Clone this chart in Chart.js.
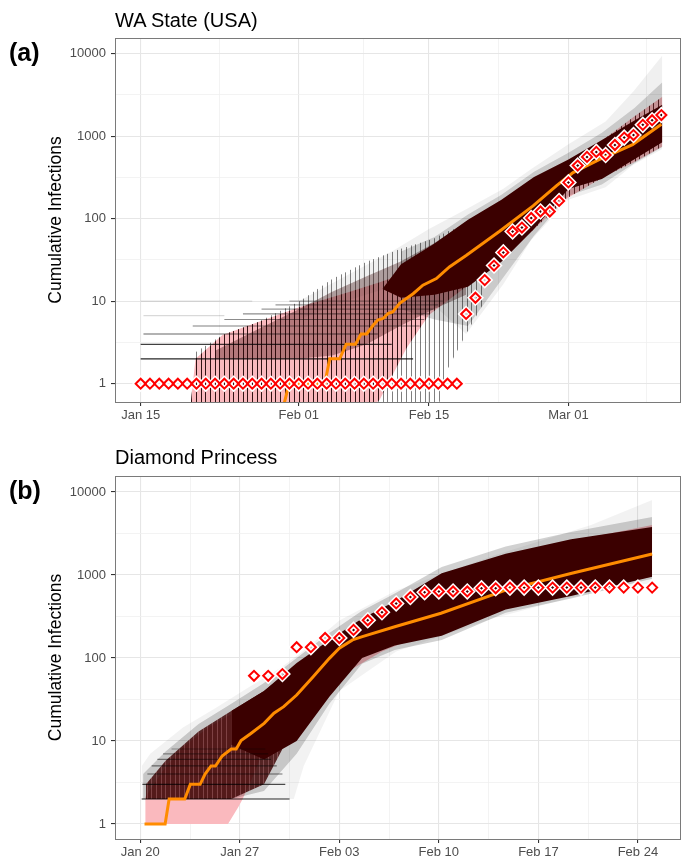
<!DOCTYPE html>
<html>
<head>
<meta charset="utf-8">
<script src="https://cdn.jsdelivr.net/npm/chart.js@4.4.1/dist/chart.umd.min.js"></script>
<style>
  html, body { margin: 0; padding: 0; background: #fff; width: 681px; height: 863px; overflow: hidden; }
  .panel { position: absolute; left: 0; width: 690px; }
  #panelA { top: 0; height: 431px; }
  #panelB { top: 431px; height: 432px; }
  .title { position: absolute; left: 115px; font-family: "Liberation Sans", Arial, sans-serif; font-size: 20px; line-height: 20px; color: #000; white-space: nowrap; }
  .tag { position: absolute; left: 9px; font-family: "Liberation Sans", Arial, sans-serif; font-weight: bold; font-size: 25px; line-height: 25px; color: #000; }
</style>
</head>
<body>
<div class="panel" id="panelA"><canvas id="chartA" width="690" height="431"></canvas></div>
<div class="panel" id="panelB"><canvas id="chartB" width="690" height="432"></canvas></div>
<div class="title" style="top:9.5px">WA State (USA)</div>
<div class="tag" style="top:40px">(a)</div>
<div class="title" style="top:446.5px">Diamond Princess</div>
<div class="tag" style="top:478px">(b)</div>

<script>
// ---- shared axis values ----
const yTickValues = [1, 10, 100, 1000, 10000];
const yMinorValues = [3.162, 31.62, 316.2, 3162];

// ---- (a) WA State: days counted from Jan 15 ----
const tickDaysA = [0, 17, 31, 46];
const tickLabelsA = ["Jan 15", "Feb 01", "Feb 15", "Mar 01"];
const minorDaysA = [8.5, 24, 38.5, 54.4];

// observed cumulative cases, one per day from day 0
const obsCasesA = [1, 1, 1, 1, 1, 1, 1, 1, 1, 1, 1, 1, 1, 1, 1, 1, 1, 1, 1, 1,
  1, 1, 1, 1, 1, 1, 1, 1, 1, 1, 1, 1, 1, 1, 1,
  7, 11, 18, 27, 39, 70, 78, 102, 122, 122, 164, 275, 440, 560, 644, 590,
  780, 960, 1030, 1370, 1560, 1800];

// median of the simulations
const medDaysA = [15.3, 15.96, 19.8, 20.33, 21.4, 22.1, 23.1, 23.7, 24.3, 25.0, 25.5, 26.1, 26.6,
  27.1, 27.85, 29.3, 30.35, 31.8, 33.2, 35.0, 38.6, 42.2, 44.7, 46.5, 49.3, 52.9, 56.0];
const medValsA = [0.5, 1, 1, 2, 2, 3, 3, 4, 4, 5.1, 5.9, 6.2, 7.1,
  7.4, 9.4, 12.3, 15.6, 18.8, 26, 35.8, 70.3, 143, 250, 362, 520, 790, 1390];

// interval ribbon (pink)
const pinkDaysA = [5.4, 5.9, 8.8, 12.5, 17.1, 22.5, 25.7, 28.6, 31, 35, 39, 42, 46, 50, 53, 56.1];
const pinkHighA = [0.6, 2, 3.9, 5.5, 8.5, 13, 17, 22, 30, 60, 120, 240, 480, 950, 1700, 3000];
const pinkLowA = [0.3, 0.3, 0.3, 0.3, 0.3, 0.3, 0.64, 2.7, 6.8, 15, 35, 70, 180, 330, 480, 750];

// spread of the simulated trajectories
const hatchDaysA = [5.4, 5.9, 8.8, 12.5, 17.1, 20.6, 24.3, 27.9, 31.5, 33, 35, 37];
const hatchHighA = [0.6, 2.4, 3.9, 5.5, 10, 18.6, 30, 43, 57, 70, 85, 110];
const hatchLowA = [0.3, 0.3, 0.3, 0.3, 0.3, 0.3, 0.3, 0.3, 0.3, 1.5, 4, 10];

const denseDaysA = [8, 12.5, 17, 20.6, 24.3, 27.9, 31.5, 35];
const denseHighA = [2.5, 4.5, 8, 13, 20, 30, 50, 90];
const denseLowA = [2, 2, 2, 2.2, 3, 5, 8, 12];

const coreDaysA = [26, 28, 31.6, 35.2, 38.8, 42.3, 46, 49.6, 53.1, 56.1];
const coreHighA = [14, 28, 50, 97, 170, 320, 520, 900, 1550, 2400];
const coreLowA = [14, 11, 12, 15, 30, 75, 228, 302, 525, 846];

const fringeDaysA = [28, 31.6, 35.2, 38.8, 42.3, 46, 49.6, 53.1, 56.1];
const fringeHighA = [40, 60, 112, 195, 370, 630, 1100, 2200, 4500];
const fringeLowA = [8, 6, 5, 18, 62, 190, 260, 470, 740];

const outerDaysA = [17, 22, 27, 31, 35, 39, 42, 46, 50, 53, 56.1];
const outerHighA = [10, 20, 40, 75, 130, 230, 400, 800, 1500, 3500, 9500];
const outerLowA = [6, 10, 15, 10, 4, 16, 55, 170, 240, 450, 700];

// flat trajectories (several initial cases)
const stepLevelsA = [2, 3, 4, 5, 6, 7, 8, 9, 10, 6.7, 10];
const stepStartA = [0, 0, 0.3, 5.6, 9, 11, 13, 14.5, 16, 0.3, 0];
const stepEndA = [29.3, 27, 25.5, 30, 30.5, 31, 31.5, 32, 32.5, 9, 12];

// ---- (b) Diamond Princess: days counted from Jan 20 ----
const tickDaysB = [0, 7, 14, 21, 28, 35];
const tickLabelsB = ["Jan 20", "Jan 27", "Feb 03", "Feb 10", "Feb 17", "Feb 24"];
const minorDaysB = [3.5, 10.5, 17.5, 24.5, 31.5];

const obsStartB = 8;
const obsCasesB = [61, 61, 64, 135, 135, 174, 174, 218, 285, 355, 454, 542, 621,
  634, 634, 634, 691, 691, 705, 705, 705, 705, 705, 705, 705, 705, 705, 705, 705];

const medDaysB = [0.3, 1.75, 2.03, 3.13, 3.52, 4.21, 4.56, 4.98, 5.29, 5.76, 6.4, 6.75, 7.09,
  7.78, 8.71, 9.4, 10.09, 11.0, 12.16, 13.3, 14.0, 14.93, 15.62, 17.9, 21.15, 25.75, 30.35, 36.0];
const medValsB = [1, 1, 2, 2, 3, 3, 4, 5, 5, 6.6, 8, 8, 10.1,
  12.3, 16.3, 21.6, 25.9, 35.8, 59.5, 99, 131, 165, 181, 238, 346, 662, 1050, 1790];

const pinkDaysB = [0.35, 1.6, 3.0, 4.8, 6.17, 6.9, 7.2, 8.0, 8.7, 11, 14, 17, 21, 26, 30, 36];
const pinkHighB = [2.1, 4.4, 8.4, 14.6, 20, 23, 25, 29, 33, 60, 150, 350, 900, 1600, 2500, 4000];
const pinkLowB = [1, 1, 1, 1, 1, 1.6, 2, 4, 8, 22, 60, 120, 230, 420, 600, 950];

const earlyDaysB = [0.4, 1.8, 4.1, 6.4, 8.7, 10];
const earlyHighB = [3, 5.8, 13, 23, 40, 60];
const earlyLowB = [2, 2, 2, 2, 3, 8];

const coreDaysB = [6.4, 8.7, 11, 13.3, 15.6, 17.9, 21.2, 25.7, 30.3, 36];
const coreHighB = [23, 40, 87, 165, 300, 480, 1050, 1800, 2700, 3800];
const coreLowB = [9, 6, 10, 34, 100, 141, 185, 385, 560, 950];

const innerDaysB = [0.2, 1.8, 4.1, 6.4, 8.7, 11, 13.3, 15.6, 17.9, 21.2, 25.7, 30.3, 36];
const innerHighB = [4, 7.5, 16, 28, 50, 100, 200, 370, 600, 1250, 2200, 3300, 5000];
const innerLowB = [2, 2, 2, 2, 2.5, 7, 28, 85, 125, 165, 350, 520, 900];

const outerDaysB = [0.1, 0.7, 3, 5.3, 7.6, 9.9, 10.8, 11.5, 14, 18, 24.8, 31.7, 36];
const outerHighB = [5, 7, 14.5, 25, 44, 77, 100, 123, 283, 650, 1700, 4000, 8000];
const outerLowB = [2, 2, 2, 2, 2, 2, 2, 5, 40, 120, 300, 620, 800];

const stepLevelsB = [2, 3, 4, 5, 6, 7, 8];
const stepStartB = [0.1, 0.15, 0.5, 0.8, 1.2, 1.6, 2.2];
const stepEndB = [10.5, 10.2, 10, 9.6, 9.2, 9, 8.8];

// ---- styling ----
const FONT = '"Liberation Sans", Arial, sans-serif';
const PINK = "rgb(250, 185, 190)";
const MAROON = "#3b0000";
const ORANGE = "#ff8c00";
const STEP_ALPHA_A = [0.85, 0.75, 0.6, 0.5, 0.45, 0.45, 0.4, 0.4, 0.35, 0.15, 0.12];
const STEP_ALPHA_B = [0.85, 0.7, 0.55, 0.5, 0.45, 0.4, 0.35];

Chart.defaults.font.family = FONT;

function pts(xs, ys) {
  return xs.map((x, i) => ({ x: x, y: ys[i] }));
}

// upper edge fills down to the lower edge dataset
function addBand(sets, days, high, low, color, order) {
  const idx = sets.length;
  sets.push({ data: pts(days, high), fill: { target: idx + 1, above: color, below: color }, backgroundColor: color,
    borderWidth: 0, pointRadius: 0, order: order });
  sets.push({ data: pts(days, low), fill: false, borderWidth: 0, pointRadius: 0, order: order });
}

function addSteps(sets, levels, starts, ends, alphas, order) {
  levels.forEach((lv, i) => {
    sets.push({ data: [{ x: starts[i], y: lv }, { x: ends[i], y: lv }], borderColor: "rgba(0,0,0," + alphas[i] + ")",
      borderWidth: 1.2, pointRadius: 0, fill: false, order: order });
  });
}

function addObserved(sets, start, cases) {
  const data = cases.map((v, i) => ({ x: start + i, y: v }));
  sets.push({ data: data, showLine: false, pointStyle: "rectRot", pointRadius: 5, pointBorderWidth: 5,
    pointBorderColor: "#fff", pointBackgroundColor: "rgba(0,0,0,0)", order: 2 });
  sets.push({ data: data, showLine: false, pointStyle: "rectRot", pointRadius: 5, pointBorderWidth: 2,
    pointBorderColor: "#ff0000", pointBackgroundColor: "rgba(0,0,0,0)", order: 1 });
}

// vertical stripes, optionally over a solid ground colour
function stripes(ctx, ground, ink, xs) {
  const c = document.createElement("canvas");
  c.width = 14; c.height = 4;
  const g = c.getContext("2d");
  if (ground) { g.fillStyle = ground; g.fillRect(0, 0, 14, 4); }
  g.fillStyle = ink;
  (xs || [0, 5, 9]).forEach((x) => g.fillRect(x, 0, 1, 4));
  return ctx.createPattern(c, "repeat");
}

const panelBorder = {
  id: "panelBorder",
  afterDraw(chart) {
    const a = chart.chartArea;
    const ctx = chart.ctx;
    ctx.save();
    ctx.strokeStyle = "#7a7a7a";
    ctx.lineWidth = 1;
    ctx.strokeRect(Math.round(a.left) + 0.5, Math.round(a.top) + 0.5, a.right - a.left, a.bottom - a.top);
    ctx.restore();
  },
};

function xScale(min, max, tickDays, tickLabels, minorDays, height) {
  return {
    type: "linear", min: min, max: max,
    afterBuildTicks: (s) => { s.ticks = tickDays.concat(minorDays).map((v) => ({ value: v })); },
    afterFit: (s) => { s.height = height; },
    ticks: {
      autoSkip: false, maxRotation: 0, padding: 2, color: "#4d4d4d", font: { size: 13 },
      callback: (v) => { const i = tickDays.indexOf(v); return i < 0 ? "" : tickLabels[i]; },
    },
    grid: {
      color: (c) => tickDays.includes(c.tick.value) ? "#e6e6e6" : "#f0f0f0",
      lineWidth: (c) => tickDays.includes(c.tick.value) ? 1.1 : 0.8,
      tickLength: 4,
      tickColor: (c) => tickDays.includes(c.tick.value) ? "#333" : "rgba(0,0,0,0)",
    },
    border: { color: "#7a7a7a", width: 1 },
  };
}

function yScale(min, max) {
  return {
    type: "logarithmic", min: min, max: max,
    afterBuildTicks: (s) => { s.ticks = yTickValues.concat(yMinorValues).map((v) => ({ value: v })); },
    afterFit: (s) => { s.width = 73; },
    ticks: {
      autoSkip: false, padding: 5, color: "#4d4d4d", font: { size: 13 },
      callback: (v) => yTickValues.includes(v) ? String(v) : "",
    },
    grid: {
      color: (c) => yTickValues.includes(c.tick.value) ? "#e6e6e6" : "#f0f0f0",
      lineWidth: (c) => yTickValues.includes(c.tick.value) ? 1.1 : 0.8,
      tickLength: 4,
      tickColor: (c) => yTickValues.includes(c.tick.value) ? "#333" : "rgba(0,0,0,0)",
    },
    border: { color: "#7a7a7a", width: 1 },
    title: { display: true, text: "Cumulative Infections", color: "#000", font: { size: 17.5 }, padding: { top: 4, bottom: 0 } },
  };
}

function makeChart(id, sets, xs, ys, padTop) {
  return new Chart(document.getElementById(id), {
    type: "line",
    data: { datasets: sets },
    options: {
      responsive: false, animation: false,
      layout: { padding: { top: padTop, left: 42, right: 0, bottom: 0 } },
      elements: { line: { tension: 0 } },
      plugins: { legend: { display: false }, tooltip: { enabled: false } },
      scales: { x: xs, y: ys },
    },
    plugins: [panelBorder],
  });
}

document.addEventListener("DOMContentLoaded", function () {
  // --- panel (a) ---
  const ctxA = document.getElementById("chartA").getContext("2d");
  const setsA = [];
  addObserved(setsA, 0, obsCasesA);
  setsA.push({ data: pts(medDaysA, medValsA), borderColor: ORANGE, borderWidth: 3, pointRadius: 0, fill: false, order: 3 });
  addSteps(setsA, stepLevelsA, stepStartA, stepEndA, STEP_ALPHA_A, 5);
  addBand(setsA, coreDaysA, coreHighA, coreLowA, MAROON, 6);
  addBand(setsA, fringeDaysA, fringeHighA, fringeLowA, "rgba(0,0,0,0.16)", 7);
  addBand(setsA, denseDaysA, denseHighA, denseLowA, "rgba(50,0,0,0.35)", 8);
  addBand(setsA, hatchDaysA, hatchHighA, hatchLowA, stripes(ctxA, null, "rgba(0,0,0,0.5)"), 9);
  addBand(setsA, outerDaysA, outerHighA, outerLowA, "rgba(0,0,0,0.06)", 10);
  addBand(setsA, pinkDaysA, pinkHighA, pinkLowA, stripes(ctxA, PINK, "rgba(60,0,0,0.8)"), 11);
  makeChart("chartA", setsA,
    xScale(-2.76, 58.0, tickDaysA, tickLabelsA, minorDaysA, 29),
    yScale(0.636, 15460), 38);

  // --- panel (b) ---
  const ctxB = document.getElementById("chartB").getContext("2d");
  const setsB = [];
  addObserved(setsB, obsStartB, obsCasesB);
  setsB.push({ data: pts(medDaysB, medValsB), borderColor: ORANGE, borderWidth: 3, pointRadius: 0, fill: false, order: 3 });
  addSteps(setsB, stepLevelsB, stepStartB, stepEndB, STEP_ALPHA_B, 5);
  addBand(setsB, coreDaysB, coreHighB, coreLowB, MAROON, 6);
  addBand(setsB, earlyDaysB, earlyHighB, earlyLowB,
    stripes(ctxB, "rgba(60,0,0,0.82)", "rgba(250,185,190,0.25)", [2, 7, 11]), 7);
  addBand(setsB, innerDaysB, innerHighB, innerLowB, "rgba(0,0,0,0.18)", 8);
  addBand(setsB, outerDaysB, outerHighB, outerLowB, "rgba(0,0,0,0.05)", 9);
  addBand(setsB, pinkDaysB, pinkHighB, pinkLowB, PINK, 10);
  makeChart("chartB", setsB,
    xScale(-1.776, 37.96, tickDaysB, tickLabelsB, minorDaysB, 24),
    yScale(0.659, 15590), 45);
});
</script>
</body>
</html>
